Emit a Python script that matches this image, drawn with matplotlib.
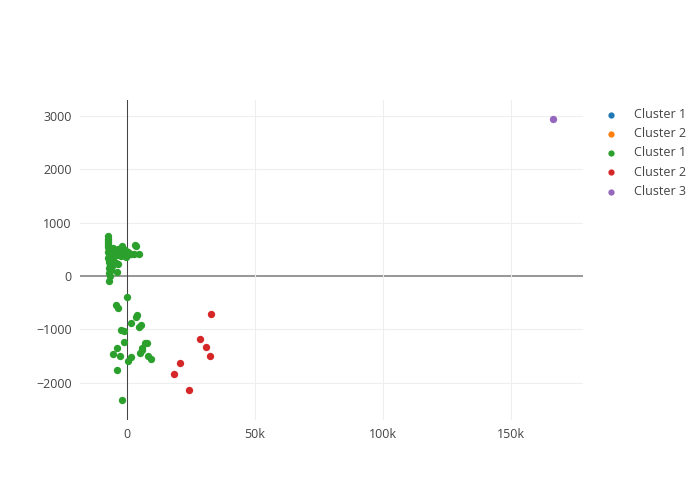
import matplotlib
matplotlib.use("Agg")
import matplotlib.pyplot as plt
from matplotlib.ticker import FixedLocator

plt.rcParams['font.family'] = ['Open Sans', 'DejaVu Sans']

# Cluster 1 (blue) and Cluster 2 (orange): no visible points
c1a_x, c1a_y = [], []
c2a_x, c2a_y = [], []

# Cluster 1 (green)
green_x = [-7600, -7500, -7400, -7600, -7300, -7500, -7200, -7000, -7400, -6800,
           -7100, -6600, -7300, -6500, -6900, -6200, -6600, -5800, -7000, -6400,
           -7200, -6800, -7000, -4000,
           -5500, -5000, -4500, -4000, -3500, -3000, -2500, -2000, -1500, -1000,
           -500, 0, 500, 1000, 1500, 2500, 3000, 3500, 4600, -5500, -4500, -3500,
           0, -4300, -3600, 3800, 3500, 1600, 5500, 4700, -2300, -1400,
           -1300, 6800, 7800, 6000, 5700, -4000, -5700, -2700, 5100, 1400,
           300, 8100, 9400, -3900, -2000]
green_y = [750, 700, 660, 620, 580, 540, 500, 470, 440, 420,
           380, 350, 330, 300, 270, 240, 200, 180, 150, 120,
           50, 0, -100, 80,
           520, 470, 430, 390, 500, 450, 380, 560, 430, 480,
           350, 400, 440, 420, 410, 420, 575, 560, 410, 300, 250, 220,
           -390, -550, -605, -725, -765, -885, -910, -960, -1010, -1025,
           -1240, -1255, -1260, -1350, -1385, -1340, -1460, -1505, -1450, -1510,
           -1590, -1500, -1550, -1760, -2315]

# Cluster 2 (red)
red_x = [32800, 28500, 30700, 32500, 20600, 18200, 24200]
red_y = [-717, -1174, -1335, -1504, -1635, -1835, -2135]

# Cluster 3 (purple)
purple_x = [166400]
purple_y = [2940]

x_ticks = [0, 50000, 100000, 150000]
x_tick_labels = ["0", "50k", "100k", "150k"]
y_ticks = [-2000, -1000, 1000, 2000, 3000]
y_tick_labels = ["\u22122000", "\u22121000", "1000", "2000", "3000"]

fig = plt.figure(figsize=(7, 5), dpi=100)
ax = fig.add_axes([80/700, 80/500, 503/700, 320/500])

series = [
    (c1a_x, c1a_y, "#1f77b4", "Cluster 1"),
    (c2a_x, c2a_y, "#ff7f0e", "Cluster 2"),
    (green_x, green_y, "#2ca02c", "Cluster 1"),
    (red_x, red_y, "#d62728", "Cluster 2"),
    (purple_x, purple_y, "#9467bd", "Cluster 3"),
]
for xs, ys, col, lab in series:
    ax.scatter(xs, ys, s=28, color=col, label=lab, linewidths=0, zorder=3)

ax.set_xlim(-18400, 178000)
ax.set_ylim(-2697, 3296)

# ticks (0 on y drawn via zero line; label added separately)
ax.xaxis.set_major_locator(FixedLocator(x_ticks))
ax.set_xticklabels(x_tick_labels)
ax.yaxis.set_major_locator(FixedLocator(y_ticks))
ax.set_yticklabels(y_tick_labels)
ax.set_yticks([0], labels=["0"], minor=True)

ax.grid(True, which="major", color="#eeeeee", linewidth=0.75, zorder=0)
ax.axhline(0, color="#999999", linewidth=1.45, zorder=1)
ax.axvline(0, color="#444444", linewidth=0.75, zorder=2)
for sp in ax.spines.values():
    sp.set_visible(False)
ax.tick_params(which="both", length=0, labelsize=9, colors="#444444", pad=6)

leg = fig.legend(*ax.get_legend_handles_labels(), loc="upper left",
                 bbox_to_anchor=(600/700, 1 - 103/500), frameon=False,
                 fontsize=9, handletextpad=1.3, markerscale=0.85,
                 labelspacing=0.5, handlelength=1.0, borderaxespad=0)
for t in leg.get_texts():
    t.set_color("#444444")

fig.savefig("out.png", dpi=100)
